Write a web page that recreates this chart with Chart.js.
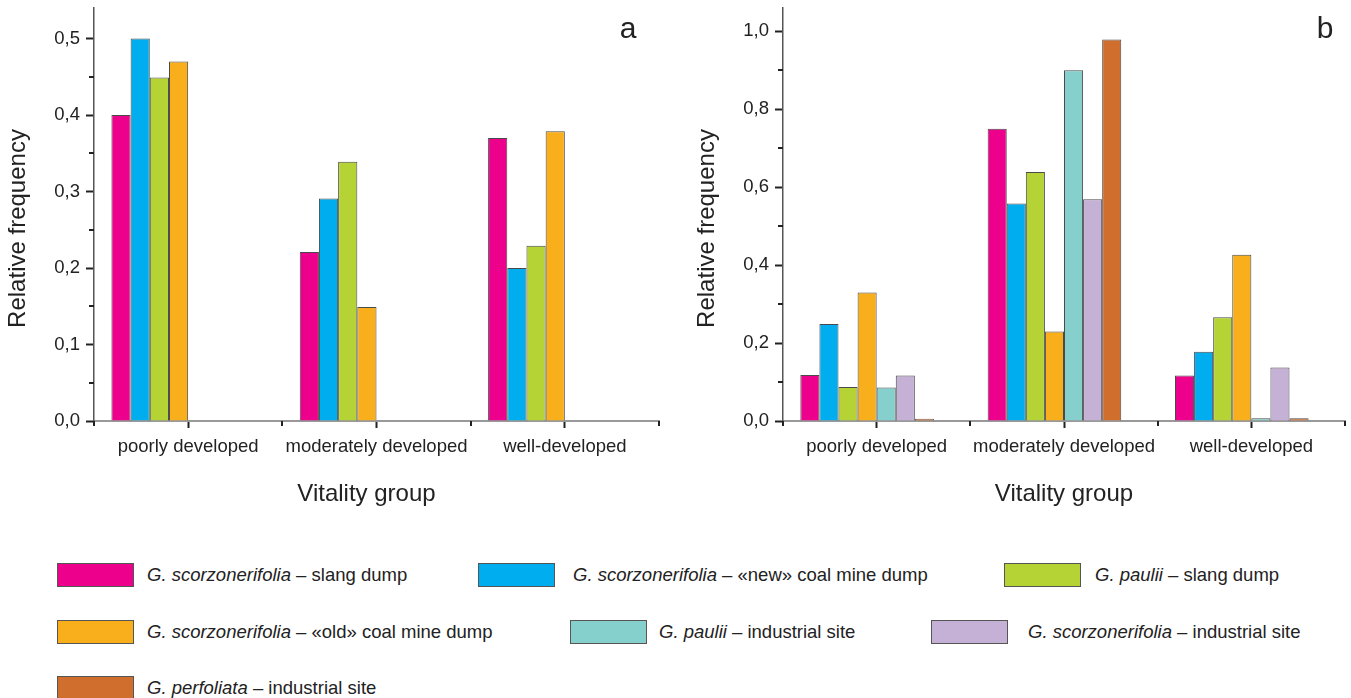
<!DOCTYPE html>
<html>
<head>
<meta charset="utf-8">
<script src="https://cdn.jsdelivr.net/npm/chart.js@4.4.1/dist/chart.umd.min.js"></script>
<style>
  html, body { margin: 0; padding: 0; background: #fff; }
  body { width: 1351px; height: 698px; overflow: hidden; position: relative;
         font-family: "Liberation Sans", Arial, sans-serif; color: #222; }
  #ca { position: absolute; left: 0; top: 0; }
  #cb { position: absolute; left: 689px; top: 0; }
  .item { position: absolute; height: 24px; }
  .sw { position: absolute; top: 0; left: 0; width: 75px; height: 22px; border: 1px solid #555; }
  .tx { position: absolute; top: 0; height: 24px; line-height: 24px; white-space: nowrap; font-size: 18.5px; color: #222; }
</style>
</head>
<body>
<canvas id="ca" width="680" height="512"></canvas>
<canvas id="cb" width="662" height="512"></canvas>
<div id="legend"></div>
<script>
// ---------- data ----------
const categories = ['poorly developed', 'moderately developed', 'well-developed'];

const seriesSpecies = ['G. scorzonerifolia', 'G. scorzonerifolia', 'G. paulii', 'G. scorzonerifolia', 'G. paulii', 'G. scorzonerifolia', 'G. perfoliata'];
const seriesSites = ['slang dump', '«new» coal mine dump', 'slang dump', '«old» coal mine dump', 'industrial site', 'industrial site', 'industrial site'];
const seriesColors = ['#EC008C', '#00AEEF', '#B5D334', '#F9AE1B', '#85CFCC', '#C5B0D6', '#D06E2E'];

// panel a
const aScorzSlang   = [0.40, 0.221, 0.37];
const aScorzNewCoal = [0.50, 0.291, 0.20];
const aPauliiSlang  = [0.449, 0.339, 0.229];
const aScorzOldCoal = [0.47, 0.149, 0.379];

// panel b
const bScorzSlang   = [0.118, 0.75, 0.117];
const bScorzNewCoal = [0.249, 0.558, 0.178];
const bPauliiSlang  = [0.087, 0.639, 0.266];
const bScorzOldCoal = [0.33, 0.23, 0.427];
const bPauliiInd    = [0.086, 0.90, 0.007];
const bScorzInd     = [0.117, 0.569, 0.137];
const bPerfInd      = [0.006, 0.979, 0.007];

const emptySeries = [null, null, null];

const yTicksA = [0, 0.1, 0.2, 0.3, 0.4, 0.5];
const yMinorA = [0.05, 0.15, 0.25, 0.35, 0.45];
const yTicksB = [0, 0.2, 0.4, 0.6, 0.8, 1.0];
const yMinorB = [0.1, 0.3, 0.5, 0.7, 0.9];

const xTitleText = 'Vitality group';
const yTitleText = 'Relative frequency';

// ---------- chart ----------
const FONT = '"Liberation Sans", Arial, sans-serif';
Chart.defaults.font.family = FONT;
Chart.defaults.color = '#222';

function ds(values, i) {
  return {
    data: values,
    backgroundColor: i === null ? 'transparent' : seriesColors[i],
    borderColor: '#4a4a4a',
    borderWidth: 1,
    borderSkipped: 'bottom',
    categoryPercentage: 0.815,
    barPercentage: 1.0
  };
}

const extras = {
  id: 'extras',
  afterDraw(chart, args, opts) {
    const { ctx, chartArea } = chart;
    const xs = chart.scales.x, ys = chart.scales.y;
    ctx.save();
    ctx.strokeStyle = '#222';
    ctx.lineWidth = 2;
    opts.minor.forEach(v => {
      const py = Math.round(ys.getPixelForValue(v));
      ctx.beginPath();
      ctx.moveTo(chartArea.left - 5, py);
      ctx.lineTo(chartArea.left, py);
      ctx.stroke();
    });
    for (let i = 0; i <= categories.length; i++) {
      const px = Math.round(xs.getPixelForValue(i - 0.5));
      ctx.beginPath();
      ctx.moveTo(px, chartArea.bottom);
      ctx.lineTo(px, chartArea.bottom + 5);
      ctx.stroke();
    }
    ctx.fillStyle = '#222';
    ctx.textAlign = 'center';
    // panel letter
    ctx.font = '30px ' + FONT;
    ctx.textBaseline = 'alphabetic';
    ctx.fillText(opts.letter, opts.letterX, 38);
    // axis titles
    ctx.font = '24px ' + FONT;
    ctx.textBaseline = 'middle';
    ctx.fillText(xTitleText, (chartArea.left + chartArea.right) / 2 + opts.xTitleDx, 494);
    ctx.translate(18, (chartArea.top + chartArea.bottom) / 2 + 14);
    ctx.rotate(-Math.PI / 2);
    ctx.fillText(yTitleText, 0, 0);
    ctx.restore();
  }
};

function makeChart(id, datasets, yMax, majorTicks, minorTicks, letter, letterX, padRight, xTitleDx) {
  return new Chart(document.getElementById(id), {
    type: 'bar',
    data: { labels: categories, datasets },
    plugins: [extras],
    options: {
      responsive: false,
      animation: false,
      devicePixelRatio: 1,
      layout: { padding: { left: 0, right: padRight, top: 8, bottom: 0 } },
      plugins: {
        legend: { display: false },
        tooltip: { enabled: false },
        extras: { minor: minorTicks, letter, letterX, xTitleDx }
      },
      scales: {
        x: {
          afterFit: s => { s.height = 91; s.paddingLeft = 0; s.paddingRight = 0; },
          border: { display: true, color: '#999', width: 2 },
          grid: { offset: false, drawOnChartArea: false, drawTicks: true, tickLength: 7, tickColor: '#222', tickWidth: 2 },
          ticks: { color: '#222', font: { size: 18.5 }, padding: 8, maxRotation: 0, autoSkip: false }
        },
        y: {
          min: 0,
          max: yMax,
          afterBuildTicks: s => { s.ticks = majorTicks.map(v => ({ value: v })); },
          afterFit: s => { s.width = 94; s.paddingTop = 0; s.paddingBottom = 0; },
          border: { display: true, color: '#555', width: 1.5 },
          grid: { drawOnChartArea: false, drawTicks: true, tickLength: 8, tickColor: '#222', tickWidth: 2 },
          ticks: { color: '#222', font: { size: 18.5 }, padding: 6,
                   callback: v => Number(v).toFixed(1).replace('.', ',') }
        }
      }
    }
  });
}

makeChart('ca', [
  ds(aScorzSlang, 0), ds(aScorzNewCoal, 1), ds(aPauliiSlang, 2), ds(aScorzOldCoal, 3),
  ds(emptySeries, null), ds(emptySeries, null), ds(emptySeries, null), ds(emptySeries, null)
], 0.54, yTicksA, yMinorA, 'a', 628, 21, -10);

makeChart('cb', [
  ds(bScorzSlang, 0), ds(bScorzNewCoal, 1), ds(bPauliiSlang, 2), ds(bScorzOldCoal, 3),
  ds(bPauliiInd, 4), ds(bScorzInd, 5), ds(bPerfInd, 6), ds(emptySeries, null)
], 1.06, yTicksB, yMinorB, 'b', 636, 6, 0);

// ---------- legend ----------
const legendPos = [
  [57, 563, 147], [478, 563, 573], [1004, 563, 1095],
  [57, 620, 147], [570, 620, 659], [931, 620, 1028],
  [57, 676, 147]
];
const lg = document.getElementById('legend');
seriesSpecies.forEach((sp, i) => {
  const [sx, sy, tx] = legendPos[i];
  const it = document.createElement('div');
  it.className = 'item';
  it.style.left = sx + 'px';
  it.style.top = sy + 'px';
  const sw = document.createElement('div');
  sw.className = 'sw';
  sw.style.background = seriesColors[i];
  const t = document.createElement('div');
  t.className = 'tx';
  t.style.left = (tx - sx) + 'px';
  const em = document.createElement('i');
  em.textContent = sp;
  t.appendChild(em);
  t.appendChild(document.createTextNode(' – ' + seriesSites[i]));
  it.appendChild(sw);
  it.appendChild(t);
  lg.appendChild(it);
});
</script>
</body>
</html>
